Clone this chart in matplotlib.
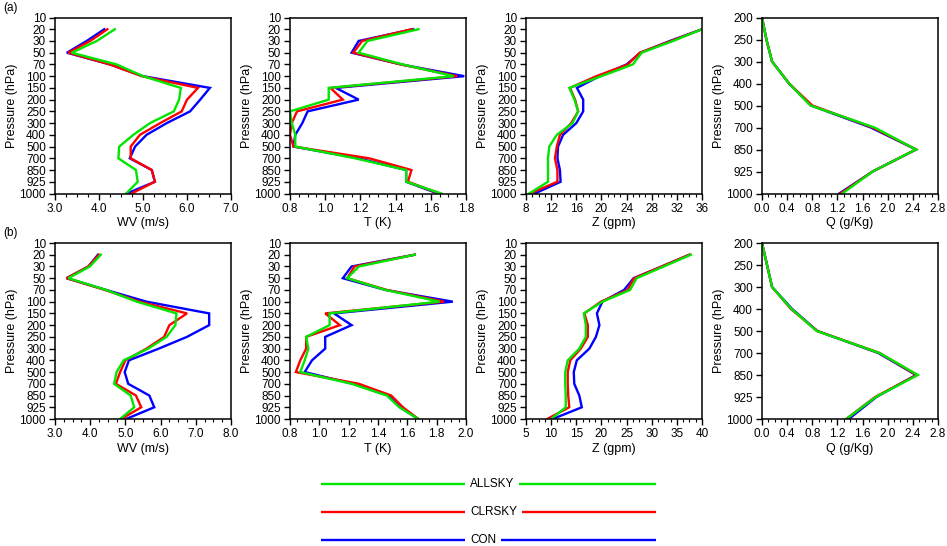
import numpy as np
import matplotlib.pyplot as plt
from matplotlib.ticker import MultipleLocator, AutoMinorLocator

plt.rcParams["font.family"] = ["Liberation Sans", "DejaVu Sans"]

LEVELS = [10, 20, 30, 50, 70, 100, 150, 200, 250, 300, 400, 500, 700, 850, 925, 1000]
Q_LEVELS = [200, 250, 300, 400, 500, 700, 850, 925, 1000]
DATA_LEVELS = LEVELS[1:]  # profiles start at 20 hPa

SERIES = ["CON", "CLRSKY", "ALLSKY"]
COLORS = {"ALLSKY": "#00e600", "CLRSKY": "#ff0000", "CON": "#0000ff"}

# ---- panel (a) ----
a_wv_con = [4.12, 3.72, 3.27, 4.25, 5.00, 6.52, 6.30, 6.07, 5.54, 5.08, 4.82, 4.70, 5.20, 5.27, 4.63]
a_wv_clr = [4.19, 3.80, 3.30, 4.25, 4.97, 6.25, 6.00, 5.88, 5.39, 4.93, 4.72, 4.72, 5.20, 5.27, 4.74]
a_wv_all = [4.36, 3.95, 3.38, 4.40, 5.00, 5.86, 5.82, 5.70, 5.16, 4.78, 4.46, 4.44, 4.84, 4.88, 4.62]

a_t_con = [1.50, 1.19, 1.15, 1.43, 1.79, 1.06, 1.19, 0.90, 0.87, 0.83, 0.82, 1.19, 1.46, 1.46, 1.64]
a_t_clr = [1.49, 1.21, 1.16, 1.43, 1.75, 1.03, 1.10, 0.84, 0.81, 0.80, 0.82, 1.25, 1.49, 1.47, 1.65]
a_t_all = [1.53, 1.24, 1.19, 1.44, 1.73, 1.02, 1.02, 0.80, 0.81, 0.83, 0.83, 1.17, 1.46, 1.46, 1.66]

a_z_con = [36.0, 30.9, 26.2, 24.0, 19.7, 16.1, 17.1, 17.1, 16.0, 13.9, 13.1, 13.0, 13.4, 13.5, 9.4]
a_z_clr = [36.0, 31.1, 26.1, 24.2, 19.2, 15.0, 15.8, 16.3, 15.2, 13.4, 12.9, 12.6, 13.0, 13.0, 8.6]
a_z_all = [36.0, 31.4, 26.4, 25.0, 20.0, 14.9, 15.7, 16.3, 15.4, 12.9, 11.7, 11.5, 11.5, 11.5, 8.5]

a_q_con = [0.00, 0.07, 0.16, 0.43, 0.78, 1.73, 2.45, 1.76, 1.23]
a_q_clr = [0.00, 0.07, 0.16, 0.43, 0.80, 1.76, 2.45, 1.76, 1.25]
a_q_all = [0.00, 0.07, 0.16, 0.43, 0.77, 1.79, 2.45, 1.76, 1.28]

# ---- panel (b) ----
b_wv_con = [4.22, 3.95, 3.33, 4.45, 5.60, 7.38, 7.38, 6.75, 5.95, 5.10, 4.98, 5.08, 5.68, 5.82, 5.02]
b_wv_clr = [4.25, 3.95, 3.33, 4.42, 5.40, 6.75, 6.25, 6.10, 5.60, 5.00, 4.85, 4.73, 5.30, 5.45, 4.88]
b_wv_all = [4.30, 3.99, 3.38, 4.45, 5.32, 6.45, 6.42, 6.17, 5.65, 4.95, 4.75, 4.68, 5.15, 5.25, 4.85]

b_t_con = [1.65, 1.22, 1.16, 1.45, 1.91, 1.10, 1.22, 1.04, 1.04, 0.95, 0.90, 1.23, 1.47, 1.55, 1.675]
b_t_clr = [1.65, 1.24, 1.19, 1.46, 1.85, 1.04, 1.14, 0.91, 0.91, 0.87, 0.84, 1.27, 1.49, 1.57, 1.675]
b_t_all = [1.65, 1.27, 1.19, 1.45, 1.82, 1.07, 1.07, 0.91, 0.925, 0.90, 0.87, 1.22, 1.46, 1.545, 1.675]

b_z_con = [37.5, 32.0, 26.4, 24.5, 20.2, 19.1, 19.6, 18.9, 17.6, 15.1, 14.5, 14.6, 15.6, 16.1, 10.3]
b_z_clr = [37.5, 32.0, 26.5, 25.2, 19.9, 16.6, 17.3, 17.3, 15.9, 13.8, 13.3, 13.3, 13.4, 13.6, 9.2]
b_z_all = [37.8, 32.4, 27.0, 25.7, 20.2, 16.5, 16.9, 16.9, 15.6, 13.3, 12.8, 12.8, 12.9, 12.9, 10.0]

b_q_con = [0.00, 0.08, 0.16, 0.48, 0.88, 1.85, 2.45, 1.82, 1.38]
b_q_clr = [0.00, 0.08, 0.16, 0.46, 0.88, 1.87, 2.46, 1.80, 1.34]
b_q_all = [0.00, 0.08, 0.16, 0.47, 0.87, 1.87, 2.48, 1.81, 1.34]

X_LABELS = ["WV (m/s)", "T (K)", "Z (gpm)", "Q (g/Kg)"]
ROW_TAGS = ["(a)", "(b)"]

ROWS = [
    [
        {"CON": a_wv_con, "CLRSKY": a_wv_clr, "ALLSKY": a_wv_all},
        {"CON": a_t_con, "CLRSKY": a_t_clr, "ALLSKY": a_t_all},
        {"CON": a_z_con, "CLRSKY": a_z_clr, "ALLSKY": a_z_all},
        {"CON": a_q_con, "CLRSKY": a_q_clr, "ALLSKY": a_q_all},
    ],
    [
        {"CON": b_wv_con, "CLRSKY": b_wv_clr, "ALLSKY": b_wv_all},
        {"CON": b_t_con, "CLRSKY": b_t_clr, "ALLSKY": b_t_all},
        {"CON": b_z_con, "CLRSKY": b_z_clr, "ALLSKY": b_z_all},
        {"CON": b_q_con, "CLRSKY": b_q_clr, "ALLSKY": b_q_all},
    ],
]

# x-range and major tick step per panel
X_RANGES = [
    [(3.0, 7.0, 1.0), (0.8, 1.8, 0.2), (8, 36, 4), (0.0, 2.8, 0.4)],
    [(3.0, 8.0, 1.0), (0.8, 2.0, 0.2), (5, 40, 5), (0.0, 2.8, 0.4)],
]
X_FMT = ["{:.1f}", "{:.1f}", "{:g}", "{:.1f}"]

W, H = 947, 546
fig = plt.figure(figsize=(W / 100, H / 100), dpi=100)

col_left = [55, 290, 526, 762]
row_top = [17.5, 243]
ax_w, ax_h = 176, 176

for r in range(2):
    for c in range(4):
        ax = fig.add_axes([col_left[c] / W, 1 - (row_top[r] + ax_h) / H, ax_w / W, ax_h / H])
        levels = Q_LEVELS if c == 3 else LEVELS
        ylev = Q_LEVELS if c == 3 else DATA_LEVELS
        ypos = [levels.index(p) for p in ylev]
        for name in SERIES:
            ax.plot(ROWS[r][c][name], ypos, color=COLORS[name], lw=1.7,
                    solid_joinstyle="miter")
        lo, hi, step = X_RANGES[r][c]
        ax.set_xlim(lo, hi)
        ticks = np.arange(lo, hi + step / 2, step)
        ax.set_xticks(ticks)
        ax.set_xticklabels([X_FMT[c].format(t) for t in ticks])
        ax.xaxis.set_minor_locator(AutoMinorLocator(4))
        ax.set_ylim(len(levels) - 1, 0)
        ax.set_yticks(range(len(levels)))
        ax.set_yticklabels([str(p) for p in levels])
        ax.tick_params(axis="both", which="major", direction="out", length=4.5,
                       width=1.0, labelsize=8.5, pad=2)
        ax.tick_params(axis="x", which="minor", direction="out", length=2.5, width=0.8)
        ax.tick_params(top=False, right=False)
        for s in ax.spines.values():
            s.set_linewidth(1.1)
        ax.set_xlabel(X_LABELS[c], fontsize=9, labelpad=2)
        ax.set_ylabel("Pressure (hPa)", fontsize=9, labelpad=1)
    fig.text(3 / W, 1 - (row_top[r] - 10) / H, ROW_TAGS[r], fontsize=8.5,
             ha="left", va="center")

# legend: line with label text breaking it
leg = fig.add_axes([321 / W, 0, (656 - 321) / W, 80 / H])
leg.set_xlim(0, 1)
leg.set_ylim(80, 0)
leg.axis("off")
legend_order = ["ALLSKY", "CLRSKY", "CON"]
for i, name in enumerate(legend_order):
    yy = 18 + i * 28
    leg.plot([0, 1], [yy, yy], color=COLORS[name], lw=1.7)
    leg.text(0.445, yy, name, fontsize=8.5, ha="left", va="center",
             bbox=dict(facecolor="white", edgecolor="none", pad=3.5))

fig.savefig("out.png", dpi=100)
